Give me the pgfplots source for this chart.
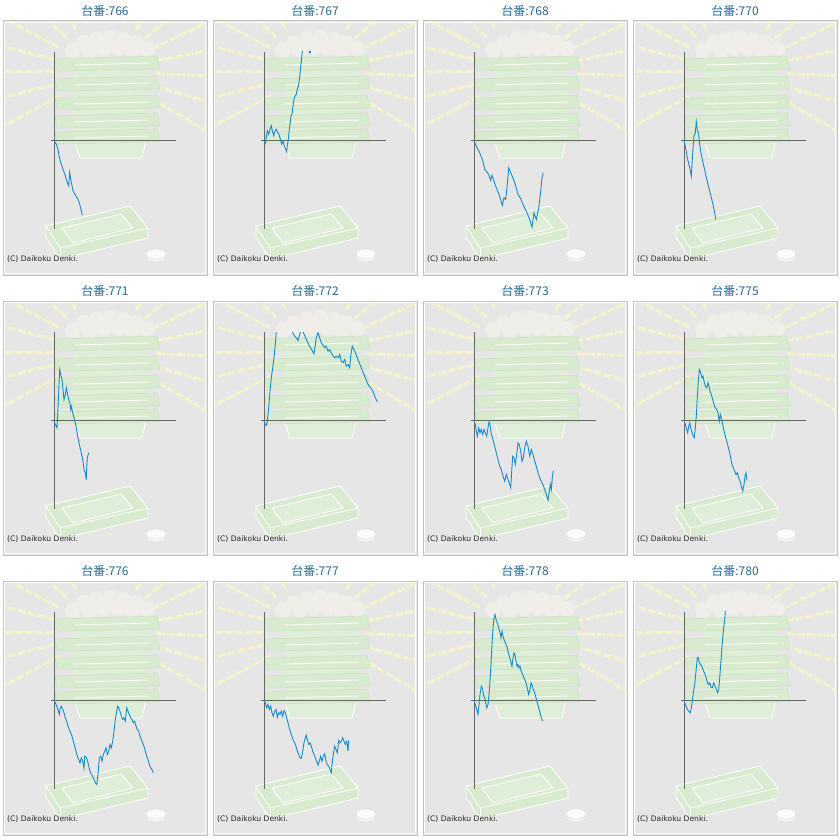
\documentclass[border=0pt]{standalone}
\usepackage{pgfplots}
\pgfplotsset{compat=1.18}
\usepackage{pgfplotstable}
\usepackage{fontspec}
\newfontfamily\cjk{Noto Sans CJK JP}
\newfontfamily\djv{DejaVu Sans}
\definecolor{bgc}{HTML}{E6E6E6}
\definecolor{bord}{HTML}{C4C4C4}
\definecolor{raycol}{HTML}{F3F3CC}
\definecolor{grn}{HTML}{D8EACF}
\definecolor{grnl}{HTML}{DEEED8}
\definecolor{grnd}{HTML}{CDE3C2}
\definecolor{blob}{HTML}{EFEEE8}
\definecolor{axc}{HTML}{666666}
\definecolor{linec}{RGB}{22,140,200}
\definecolor{titc}{RGB}{38,108,150}

\pgfplotstableread{
x y
0 0
2.3 -3.7
4 -8.7
5 -15.3
6.7 -22
9 -28.7
11.3 -35.3
13.3 -42
14.7 -45.3
15.7 -32
16.7 -38.7
19 -50.3
21.7 -55.3
24 -58.7
25.7 -63.7
27.3 -70.3
28.3 -74.7
}\tA
\pgfplotstableread{
x y
0 0
1.3 -2.7
2.3 3
3.3 9.7
4.7 6.3
6 11.3
7.3 14.7
8.3 9.7
9.7 4.7
11 9.7
12.3 11.3
13.7 8
15 6.3
16.3 1.3
17.7 -3.7
19 -0.3
20.3 -5.3
21.7 -8.7
22.7 -11.3
23.3 -5.3
24.3 1.3
25 8
26 16.3
27 24.7
28 26.3
29 34.7
30.3 43
31.3 44.7
32.3 46.3
33.3 51.3
34.3 54
35 58
36 66.3
37 76.3
38 86.3
39 92
40 98
43 97
45 90
45.7 87.5
46.3 87.8
47 93
50 100
}\tB
\pgfplotstableread{
x y
0 0
2.3 -5.7
5.7 -12.3
9 -20.7
10.7 -29
12.3 -30.7
14.7 -34
16.7 -40
18 -34.7
20 -40.7
22.3 -47.3
25.7 -55.7
28.3 -65
30 -57.3
31.7 -59
33.3 -44
34.7 -27.3
36.7 -32.3
39 -37.3
41.3 -44
44 -54
46.7 -58
49 -64
52.3 -70.7
55.7 -79
58 -86.7
60 -72.3
62.3 -79
64.7 -67.3
66.7 -50.7
68 -37.3
69.3 -32.3
}\tC
\pgfplotstableread{
x y
0 0
1.3 -5.7
3.3 -17.3
5.7 -27.3
7.3 -35.7
8 -24
9 -7.3
10 4.3
11.3 7.7
12.3 18.7
13.3 11
14.7 6
15.7 -4
17.3 -14
19 -22.3
20.7 -29
22.3 -37.3
23.3 -40.7
24 -44
25.7 -50.7
27.3 -57.3
29 -64
30.7 -72.3
31.7 -79
}\tD
\pgfplotstableread{
x y
0 0
1.3 -4
3 -7.3
4 12.7
5 36
5.7 51
6.7 46
8 41
9 31
10 21
11.3 26
12.3 32.7
13.3 27.7
14.7 21
15.7 17.7
16.7 11
17.3 14.3
18.7 7.7
20 2.7
21.3 -2.3
22.3 -7.3
24 -17.3
25.7 -25.7
27.3 -32.3
29 -40.7
30 -49
31.3 -52.3
32.3 -59
32.7 -47.3
33.3 -37.3
34.7 -32.3
}\tE
\pgfplotstableread{
x y
0 0
1.3 -4
2.3 -5
3.3 -0.7
4.7 12.7
6 29.3
7.3 42.7
8.7 52.7
10 62.7
11.3 76
12.3 88.7
14 100
20 110
25 100
28 89.5
30.7 84.3
32.3 82.7
34 80
35.7 86
36.7 90
38 93
39 88.7
42.3 81
45.7 74.3
50 66.7
52.3 82.7
54 88
57.3 77.7
60.7 72.7
62.3 74.3
64 69.3
65.7 71
68 66
70.7 62.7
72.3 64.3
74 62.7
75.7 66
77.3 59.3
79 57.7
80.7 61
82.3 54.3
84 56
85.7 52.7
86.7 64.3
88.3 74.3
90.7 69.3
94 61
97.3 52.7
100.7 44.3
104 36
106.7 32.7
109 29.3
110.7 24.3
113.3 18.7
}\tF
\pgfplotstableread{
x y
0 0
1.3 -4
2.3 -10.7
3.3 -15.7
4.7 -7.3
6 -12.3
7.3 -9
8.7 -14
10 -9
11.3 -12.3
12.7 -15.7
14 -7.3
15 -1.3
16 -4
17.3 -14
19 -19
20.7 -25.7
22.3 -32.3
24 -39
25.7 -45.7
27.3 -49
29 -55.7
30.7 -60.7
32.3 -54
34 -59
35.7 -64
36.7 -67.3
37.7 -50.7
38.7 -35.7
40 -37.3
41.3 -44
42.7 -34
44 -22.3
45.3 -24
46.7 -30.7
48 -40.7
49.3 -37.3
50.7 -27.3
52.3 -20.7
54 -25.7
55.7 -35.7
57.3 -29
59 -34
60.7 -40.7
62.3 -45.7
64 -52.3
65.7 -57.3
67.3 -60.7
69 -64
70.7 -69
72.3 -74
74 -80
75.3 -70.7
76.3 -64
77.3 -69
78.3 -57.3
79.3 -50
}\tG
\pgfplotstableread{
x y
0 0
1.3 -4
2.7 -9
3.7 -12.3
4.7 -5.7
5.7 -2.3
6.7 -7.3
8 -12.3
9.3 -15.7
10.3 -17.3
11.3 -7.3
12.3 4.3
13.3 22.7
14.3 39.3
15.3 51
16.7 47.7
18 42.7
19 44.3
20 39.3
21.3 34.3
22.7 32.7
24 37.7
25 34.3
26 29.3
27.3 26
28.7 21
30 16
31.3 12.7
32.7 11
34 7.7
35.3 -0.7
36.3 6
37.3 2.7
38.7 -4
40 -10.7
41.3 -15.7
42.7 -20.7
44 -25.7
45.3 -30.7
46.7 -37.3
48 -44
49.3 -47.3
50.7 -50.7
52 -54
53.3 -52.3
54.7 -57.3
56 -60.7
57.3 -65.7
58.7 -70.7
60 -64
61 -55.7
62 -52.3
63 -60
}\tH
\pgfplotstableread{
x y
0 0
1.3 -2.3
2.7 -5.7
4 -9
5.3 -14
6.3 -7.3
7.3 -5.7
8.7 -9
10 -12.3
11.3 -17.3
12.7 -20.7
14 -25.7
15.3 -29
16.7 -32.3
18 -35.7
19.3 -40.7
20.7 -45.7
22 -50.7
23.3 -55.7
24.7 -59
26 -62.3
27.3 -57.3
28.7 -60.7
30 -67.3
30.7 -55.7
32 -56.7
33.3 -59
34.7 -65.7
36 -70.7
37.3 -74
38.7 -75.7
40 -79
41.3 -82.3
42.7 -84
44 -74
45.3 -57.3
46.7 -55.7
48 -60.7
49.3 -54
50.7 -50.7
52 -47.3
53.3 -54
54.7 -50.7
56 -44
57.3 -47.3
58.7 -40.7
60 -30.7
61.3 -19
62.7 -10.7
63.7 -5.7
64.7 -7.3
66 -10.7
67.3 -15.7
68.7 -19
70 -17.3
71.3 -20.7
72.7 -7.3
74 -10.7
75.3 -14
76.7 -17.3
78 -19
79.3 -22.3
80.7 -20.7
82 -25.7
83.3 -29
84.7 -30.7
86 -35.7
87.3 -39
88.7 -42.3
90 -45.7
91.3 -50.7
92.7 -55.7
94 -59
95.3 -64
96.7 -67.3
98 -69
99.3 -72.3
}\tI
\pgfplotstableread{
x y
0 0
1.3 -2.3
2.7 -7.3
4 -4
5.3 -9
6.7 -5.7
8 -12.3
9.3 -15.7
10.7 -10.7
12 -9
13.3 -16.7
14.7 -12.3
16 -14
17.3 -10.7
18.7 -15.7
20 -10
21.3 -12.3
22.7 -17.3
24 -22.3
25.3 -27.3
26.7 -32.3
28 -35.7
29.3 -40
30.7 -42.3
32 -45.7
33.3 -50.7
34.7 -54
36 -57.3
37.3 -58
38.7 -50.7
40 -42.3
41.3 -37.3
42.3 -34.7
43.3 -39
44.7 -44
46 -42.3
47.3 -45.7
48.7 -50.7
50 -54
51.3 -57.3
52.7 -60.7
54 -64.7
55.3 -60.7
56.7 -55.7
58 -60.7
59.3 -55.7
60.7 -53.3
62 -60.7
63.3 -64
64.7 -65.7
66 -69
67.3 -72.3
68 -64
69.3 -54
70.7 -45.7
72 -49
73.3 -52.3
74.7 -40
76 -42.3
77.3 -40.7
78.7 -37.3
80 -40.7
81.3 -44
82.7 -40.7
84 -50.7
84.7 -40
}\tJ
\pgfplotstableread{
x y
0 0
1.3 -4
2.7 -9
4 -14
5 -4
6 6
7.3 14.3
8.7 11
9.7 4.3
10.7 2.7
11.7 -2.3
12.7 -7.3
14 -4
15 6
16 19.3
17 36
18 56
19 72.7
20 82.7
21 86
22 81
23.3 77.7
24.7 72.7
26 67.7
27 62.7
28 69.3
29 64.3
30 61
31.3 57.7
32.7 54.3
34 49.3
35.3 44.3
36.7 39.3
38 34.3
39 42.7
40 47.7
41 46
42 39.3
43 34.3
44 36
45 32.7
46 34.3
47 29.3
48 27.7
49.3 24.3
50.7 21
52 17.7
53.3 12.7
54.7 6
56 11
57 17.7
58 16
59.3 11
60.7 7.7
62 2.7
63.3 -2.3
64.7 -7.3
66 -12.3
67.3 -17.3
68.7 -20.7
}\tK
\pgfplotstableread{
x y
0 0
1.3 -4
2.7 -7.3
4 -10
5.3 -11.3
6.3 -12.3
7.3 -7.3
8.3 -0.7
9.3 7.7
10.7 16
12 29.3
13.3 42.7
14 43.3
15 39.3
16.3 36
17.7 34.3
19 31
20.3 27.7
21.7 24.3
23 19.3
24.3 16
25.7 17.7
27 13.3
28.3 12.7
29.7 17.7
31 14.3
32.3 11
33.7 7.7
34.7 11
35.7 22.7
36.7 36
37.7 49.3
38.7 62.7
39.7 72.7
40.7 81
41.3 88.7
42 96
}\tL

\newcommand{\deco}{%
  \fill[bgc] (3,21) rectangle (207,275);
  \begin{scope}
    \clip (4,22) rectangle (206,274);
    \foreach \a in {-208,-194,...,30}
      \draw[raycol, line width=3pt, dash pattern=on 8pt off 2pt] (105,72) ++(\a:52) -- ++(\a:70);
    % central column and base
    \fill[grnl] (74,60) -- (146,60) -- (146,140) -- (142,158) -- (80,158) -- (74,140) -- cycle;
    \draw[white, line width=0.8pt] (74,140) -- (80,158) -- (142,158) -- (146,140);
    % balls on top
    \foreach \bx/\by in {73/50,84/43,97/39,110/38,123/40,136/43,147/49,90/50,104/48,118/48,132/51}
      \filldraw[fill=blob, draw=white!85!gray, line width=0.4pt] (\bx,\by) circle (8);
    % layers
    \foreach \ly in {56,76,95,113,129}{
      \filldraw[fill=grn, draw=grnd, line width=0.6pt] (55,\ly+3) -- (157,\ly) -- (160,\ly+13) -- (57,\ly+15) -- cycle;
      \draw[white, line width=1pt, opacity=0.8] (75,\ly+9) -- (148,\ly+7);
    }
    % bottom tray
    \filldraw[fill=grn, draw=white, line width=0.8pt] (46,226) -- (130,206) -- (148,228) -- (148,238) -- (60,259) -- (46,237) -- cycle;
    \filldraw[fill=grnl, draw=white, line width=0.8pt] (62,228) -- (121,214) -- (133,228) -- (73,243) -- cycle;
    \draw[white, line width=0.8pt] (46,226) -- (60,248) -- (148,228);
    \draw[white, line width=0.6pt] (60,248) -- (60,259);
    % coin
    \filldraw[fill=white!92!gray, draw=white!75!gray, line width=0.5pt] (156,257) ellipse (10 and 5);
    \filldraw[fill=white!97!gray, draw=white!75!gray, line width=0.5pt] (156,254) ellipse (10 and 5);
  \end{scope}
  \draw[bord, line width=1pt] (3,21) rectangle (207,275);
  \draw[white, line width=1pt] (4.5,22.5) rectangle (205.5,273.5);
}

\newcommand{\panel}[4]{%
  \begin{scope}[shift={(#1,-#2)}, yscale=-1]
    \deco
  \end{scope}
  \node[font=\cjk\fontsize{12}{14}\selectfont, text=titc, inner sep=0pt] at ({#1+105},{-#2-11}) {台番:#3};
  \node[font=\djv\fontsize{7.6}{9}\selectfont, text=black!85, anchor=west, inner sep=0pt] at ({#1+7},{-#2-259}) {(C) Daikoku Denki.};
  \begin{axis}[at={({#1pt+51pt},{-#2pt-229pt})}, anchor=south west,
    scale only axis, width=125pt, height=177pt,
    xmin=-3, xmax=122, ymin=-88.5, ymax=88.5,
    axis lines=middle, axis line style={-, draw=axc, line width=1pt},
    xtick=\empty, ytick=\empty]
    \addplot[linec, line width=0.9pt, no marks] table[x=x, y=y] {#4};
  \end{axis}
}

\begin{document}
\begin{tikzpicture}[x=1pt, y=1pt]
  \fill[white] (0,0) rectangle (840,-840);
  \panel{0}{0}{766}{\tA}
  \panel{210}{0}{767}{\tB}
  \panel{420}{0}{768}{\tC}
  \panel{630}{0}{770}{\tD}
  \panel{0}{280}{771}{\tE}
  \panel{210}{280}{772}{\tF}
  \panel{420}{280}{773}{\tG}
  \panel{630}{280}{775}{\tH}
  \panel{0}{560}{776}{\tI}
  \panel{210}{560}{777}{\tJ}
  \panel{420}{560}{778}{\tK}
  \panel{630}{560}{780}{\tL}
\end{tikzpicture}
\end{document}
